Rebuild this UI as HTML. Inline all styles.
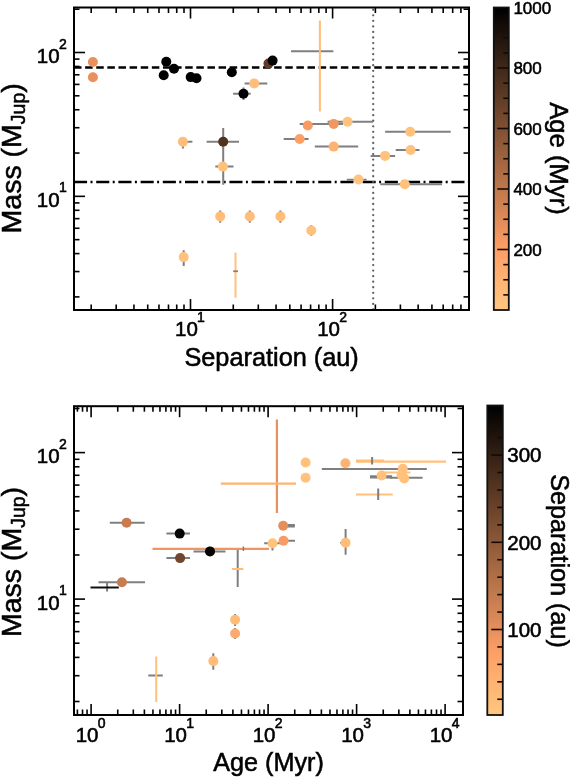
<!DOCTYPE html><html><head><meta charset="utf-8"><style>html,body{margin:0;padding:0;background:#fff;width:570px;height:778px;overflow:hidden}svg{display:block;filter:blur(0.35px)}text{font-family:"Liberation Sans",sans-serif;stroke:#000;stroke-width:0.55px}</style></head><body><svg width="570" height="778" viewBox="0 0 570 778" font-family="Liberation Sans, sans-serif">
<rect width="570" height="778" fill="#fff"/>
<defs>
<linearGradient id="cu" x1="0" y1="1" x2="0" y2="0"><stop offset="0.00" stop-color="#ffc77f"/><stop offset="0.05" stop-color="#ffbd79"/><stop offset="0.10" stop-color="#ffb372"/><stop offset="0.15" stop-color="#ffa96c"/><stop offset="0.20" stop-color="#ff9f65"/><stop offset="0.25" stop-color="#ef955f"/><stop offset="0.30" stop-color="#df8b59"/><stop offset="0.35" stop-color="#cf8152"/><stop offset="0.40" stop-color="#bf784c"/><stop offset="0.45" stop-color="#af6e46"/><stop offset="0.50" stop-color="#9f643f"/><stop offset="0.55" stop-color="#8f5a39"/><stop offset="0.60" stop-color="#805033"/><stop offset="0.65" stop-color="#70462c"/><stop offset="0.70" stop-color="#603c26"/><stop offset="0.75" stop-color="#503220"/><stop offset="0.80" stop-color="#402819"/><stop offset="0.85" stop-color="#301e13"/><stop offset="0.90" stop-color="#20140d"/><stop offset="0.95" stop-color="#100a06"/><stop offset="1.00" stop-color="#000000"/></linearGradient>
<clipPath id="ct"><rect x="74" y="7.5" width="395" height="302.5"/></clipPath>
<clipPath id="cb"><rect x="74" y="406.2" width="389" height="308.8"/></clipPath>
</defs>
<g clip-path="url(#ct)">
<line x1="74" y1="67.4" x2="469" y2="67.4" stroke="#000" stroke-width="2.5" stroke-dasharray="7.5 3.62"/>
<line x1="74" y1="181.9" x2="469" y2="181.9" stroke="#000" stroke-width="2.5" stroke-dasharray="13.1 3.4 2 3.7"/>
<line x1="373.2" y1="4.2" x2="373.2" y2="310" stroke="#606060" stroke-width="2.3" stroke-dasharray="0.01 5.54" stroke-linecap="round"/>
<line x1="233.1" y1="93.7" x2="250.7" y2="93.7" stroke="#7f7f7f" stroke-width="2" />
<line x1="243.5" y1="87.5" x2="243.5" y2="100" stroke="#7f7f7f" stroke-width="2" />
<line x1="244.6" y1="83.4" x2="267.3" y2="83.4" stroke="#7f7f7f" stroke-width="2" />
<line x1="291" y1="51.2" x2="333.4" y2="51.2" stroke="#7f7f7f" stroke-width="2" />
<line x1="299.7" y1="123.9" x2="343" y2="123.9" stroke="#7f7f7f" stroke-width="2" />
<line x1="327.6" y1="121.8" x2="373" y2="121.8" stroke="#7f7f7f" stroke-width="2" />
<line x1="283.7" y1="139" x2="308.6" y2="139" stroke="#7f7f7f" stroke-width="2" />
<line x1="314.8" y1="146.6" x2="358.2" y2="146.6" stroke="#7f7f7f" stroke-width="2" />
<line x1="385.1" y1="131.8" x2="450.7" y2="131.8" stroke="#7f7f7f" stroke-width="2" />
<line x1="395.7" y1="150" x2="419.5" y2="150" stroke="#7f7f7f" stroke-width="2" />
<line x1="370.6" y1="155.9" x2="395.1" y2="155.9" stroke="#7f7f7f" stroke-width="2" />
<line x1="380.3" y1="184.3" x2="442" y2="184.3" stroke="#7f7f7f" stroke-width="2" />
<line x1="346.8" y1="179.7" x2="366.6" y2="179.7" stroke="#7f7f7f" stroke-width="2" />
<line x1="182.9" y1="141.8" x2="192.4" y2="141.8" stroke="#7f7f7f" stroke-width="2" />
<line x1="182.9" y1="141.8" x2="182.9" y2="148.4" stroke="#7f7f7f" stroke-width="2" />
<line x1="206.6" y1="141.8" x2="239" y2="141.8" stroke="#7f7f7f" stroke-width="2" />
<line x1="223.2" y1="127.9" x2="223.2" y2="184.8" stroke="#7f7f7f" stroke-width="2" />
<line x1="215.3" y1="166.6" x2="233.5" y2="166.6" stroke="#7f7f7f" stroke-width="2" />
<line x1="220.2" y1="210.5" x2="220.2" y2="222.7" stroke="#7f7f7f" stroke-width="2" />
<line x1="249.8" y1="210.5" x2="249.8" y2="222.7" stroke="#7f7f7f" stroke-width="2" />
<line x1="280.4" y1="210.5" x2="280.4" y2="222.7" stroke="#7f7f7f" stroke-width="2" />
<line x1="311.3" y1="225.3" x2="311.3" y2="235.8" stroke="#7f7f7f" stroke-width="2" />
<line x1="183.7" y1="250.3" x2="183.7" y2="266" stroke="#7f7f7f" stroke-width="2" />
<line x1="233.5" y1="271.3" x2="237.7" y2="271.3" stroke="#7f7f7f" stroke-width="2" />
<line x1="319.9" y1="20.4" x2="319.9" y2="111.6" stroke="#ffbd79" stroke-width="2" />
<line x1="235.5" y1="252.6" x2="235.5" y2="297.7" stroke="#ffc17b" stroke-width="2" />
<line x1="233.5" y1="271.3" x2="237.7" y2="271.3" stroke="#7f7f7f" stroke-width="1.5" />
<circle cx="92.9" cy="62.0" r="5.0" fill="#e9915d"/>
<circle cx="92.9" cy="77.3" r="5.0" fill="#e9915d"/>
<circle cx="166.3" cy="61.7" r="5.0" fill="#000000"/>
<circle cx="163.7" cy="75.2" r="5.0" fill="#000000"/>
<circle cx="174" cy="68.7" r="5.0" fill="#000000"/>
<circle cx="190.7" cy="77.1" r="5.0" fill="#000000"/>
<circle cx="196.5" cy="78.3" r="5.0" fill="#000000"/>
<circle cx="231.8" cy="72.2" r="5.0" fill="#000000"/>
<circle cx="243.5" cy="93.7" r="5.0" fill="#000000"/>
<circle cx="254.2" cy="83.4" r="5.0" fill="#ffbf7a"/>
<circle cx="268.5" cy="63.6" r="5.0" fill="#603c26"/>
<circle cx="272.6" cy="60.6" r="5.0" fill="#060403"/>
<circle cx="307.8" cy="125.5" r="5.0" fill="#f99b63"/>
<circle cx="333.7" cy="123.9" r="5.0" fill="#f29760"/>
<circle cx="347.6" cy="121.8" r="5.0" fill="#ffc37c"/>
<circle cx="299.7" cy="139" r="5.0" fill="#ff9f65"/>
<circle cx="333.7" cy="146.6" r="5.0" fill="#ffb372"/>
<circle cx="410.2" cy="131.8" r="5.0" fill="#ffc17b"/>
<circle cx="410.6" cy="150" r="5.0" fill="#ffc17b"/>
<circle cx="385.1" cy="155.9" r="5.0" fill="#ffc17b"/>
<circle cx="404.8" cy="184.3" r="5.0" fill="#ffc17b"/>
<circle cx="358.5" cy="179.5" r="5.0" fill="#ffc37c"/>
<circle cx="182.9" cy="141.8" r="5.0" fill="#ffbd79"/>
<circle cx="223.2" cy="141.8" r="5.0" fill="#503220"/>
<circle cx="222.9" cy="166.6" r="5.0" fill="#ffc17b"/>
<circle cx="220.2" cy="216.4" r="5.0" fill="#ffbd79"/>
<circle cx="249.8" cy="216.4" r="5.0" fill="#ffbd79"/>
<circle cx="280.4" cy="216.4" r="5.0" fill="#ffbd79"/>
<circle cx="311.3" cy="230.5" r="5.0" fill="#ffc17b"/>
<circle cx="183.7" cy="257.1" r="5.0" fill="#ffc17b"/>
</g>
<line x1="190.5" y1="310" x2="190.5" y2="299" stroke="#000" stroke-width="1.6" />
<line x1="190.5" y1="7.5" x2="190.5" y2="18.5" stroke="#000" stroke-width="1.6" />
<line x1="332.59999999999997" y1="310" x2="332.59999999999997" y2="299" stroke="#000" stroke-width="1.6" />
<line x1="332.59999999999997" y1="7.5" x2="332.59999999999997" y2="18.5" stroke="#000" stroke-width="1.6" />
<line x1="91.17636238385172" y1="310" x2="91.17636238385172" y2="304.5" stroke="#000" stroke-width="1.6" />
<line x1="91.17636238385172" y1="7.5" x2="91.17636238385172" y2="13.0" stroke="#000" stroke-width="1.6" />
<line x1="116.19893029566404" y1="310" x2="116.19893029566404" y2="304.5" stroke="#000" stroke-width="1.6" />
<line x1="116.19893029566404" y1="7.5" x2="116.19893029566404" y2="13.0" stroke="#000" stroke-width="1.6" />
<line x1="133.95272476770344" y1="310" x2="133.95272476770344" y2="304.5" stroke="#000" stroke-width="1.6" />
<line x1="133.95272476770344" y1="7.5" x2="133.95272476770344" y2="13.0" stroke="#000" stroke-width="1.6" />
<line x1="147.72363761614827" y1="310" x2="147.72363761614827" y2="304.5" stroke="#000" stroke-width="1.6" />
<line x1="147.72363761614827" y1="7.5" x2="147.72363761614827" y2="13.0" stroke="#000" stroke-width="1.6" />
<line x1="158.97529267951575" y1="310" x2="158.97529267951575" y2="304.5" stroke="#000" stroke-width="1.6" />
<line x1="158.97529267951575" y1="7.5" x2="158.97529267951575" y2="13.0" stroke="#000" stroke-width="1.6" />
<line x1="168.4884314860259" y1="310" x2="168.4884314860259" y2="304.5" stroke="#000" stroke-width="1.6" />
<line x1="168.4884314860259" y1="7.5" x2="168.4884314860259" y2="13.0" stroke="#000" stroke-width="1.6" />
<line x1="176.72908715155518" y1="310" x2="176.72908715155518" y2="304.5" stroke="#000" stroke-width="1.6" />
<line x1="176.72908715155518" y1="7.5" x2="176.72908715155518" y2="13.0" stroke="#000" stroke-width="1.6" />
<line x1="183.99786059132808" y1="310" x2="183.99786059132808" y2="304.5" stroke="#000" stroke-width="1.6" />
<line x1="183.99786059132808" y1="7.5" x2="183.99786059132808" y2="13.0" stroke="#000" stroke-width="1.6" />
<line x1="233.27636238385173" y1="310" x2="233.27636238385173" y2="304.5" stroke="#000" stroke-width="1.6" />
<line x1="233.27636238385173" y1="7.5" x2="233.27636238385173" y2="13.0" stroke="#000" stroke-width="1.6" />
<line x1="258.298930295664" y1="310" x2="258.298930295664" y2="304.5" stroke="#000" stroke-width="1.6" />
<line x1="258.298930295664" y1="7.5" x2="258.298930295664" y2="13.0" stroke="#000" stroke-width="1.6" />
<line x1="276.05272476770347" y1="310" x2="276.05272476770347" y2="304.5" stroke="#000" stroke-width="1.6" />
<line x1="276.05272476770347" y1="7.5" x2="276.05272476770347" y2="13.0" stroke="#000" stroke-width="1.6" />
<line x1="289.82363761614823" y1="310" x2="289.82363761614823" y2="304.5" stroke="#000" stroke-width="1.6" />
<line x1="289.82363761614823" y1="7.5" x2="289.82363761614823" y2="13.0" stroke="#000" stroke-width="1.6" />
<line x1="301.07529267951577" y1="310" x2="301.07529267951577" y2="304.5" stroke="#000" stroke-width="1.6" />
<line x1="301.07529267951577" y1="7.5" x2="301.07529267951577" y2="13.0" stroke="#000" stroke-width="1.6" />
<line x1="310.58843148602585" y1="310" x2="310.58843148602585" y2="304.5" stroke="#000" stroke-width="1.6" />
<line x1="310.58843148602585" y1="7.5" x2="310.58843148602585" y2="13.0" stroke="#000" stroke-width="1.6" />
<line x1="318.82908715155514" y1="310" x2="318.82908715155514" y2="304.5" stroke="#000" stroke-width="1.6" />
<line x1="318.82908715155514" y1="7.5" x2="318.82908715155514" y2="13.0" stroke="#000" stroke-width="1.6" />
<line x1="326.097860591328" y1="310" x2="326.097860591328" y2="304.5" stroke="#000" stroke-width="1.6" />
<line x1="326.097860591328" y1="7.5" x2="326.097860591328" y2="13.0" stroke="#000" stroke-width="1.6" />
<line x1="375.3763623838517" y1="310" x2="375.3763623838517" y2="304.5" stroke="#000" stroke-width="1.6" />
<line x1="375.3763623838517" y1="7.5" x2="375.3763623838517" y2="13.0" stroke="#000" stroke-width="1.6" />
<line x1="400.398930295664" y1="310" x2="400.398930295664" y2="304.5" stroke="#000" stroke-width="1.6" />
<line x1="400.398930295664" y1="7.5" x2="400.398930295664" y2="13.0" stroke="#000" stroke-width="1.6" />
<line x1="418.15272476770343" y1="310" x2="418.15272476770343" y2="304.5" stroke="#000" stroke-width="1.6" />
<line x1="418.15272476770343" y1="7.5" x2="418.15272476770343" y2="13.0" stroke="#000" stroke-width="1.6" />
<line x1="431.9236376161482" y1="310" x2="431.9236376161482" y2="304.5" stroke="#000" stroke-width="1.6" />
<line x1="431.9236376161482" y1="7.5" x2="431.9236376161482" y2="13.0" stroke="#000" stroke-width="1.6" />
<line x1="443.17529267951574" y1="310" x2="443.17529267951574" y2="304.5" stroke="#000" stroke-width="1.6" />
<line x1="443.17529267951574" y1="7.5" x2="443.17529267951574" y2="13.0" stroke="#000" stroke-width="1.6" />
<line x1="452.6884314860259" y1="310" x2="452.6884314860259" y2="304.5" stroke="#000" stroke-width="1.6" />
<line x1="452.6884314860259" y1="7.5" x2="452.6884314860259" y2="13.0" stroke="#000" stroke-width="1.6" />
<line x1="460.92908715155517" y1="310" x2="460.92908715155517" y2="304.5" stroke="#000" stroke-width="1.6" />
<line x1="460.92908715155517" y1="7.5" x2="460.92908715155517" y2="13.0" stroke="#000" stroke-width="1.6" />
<line x1="74" y1="196.35" x2="85" y2="196.35" stroke="#000" stroke-width="1.6" />
<line x1="469" y1="196.35" x2="458" y2="196.35" stroke="#000" stroke-width="1.6" />
<line x1="74" y1="52.5" x2="85" y2="52.5" stroke="#000" stroke-width="1.6" />
<line x1="469" y1="52.5" x2="458" y2="52.5" stroke="#000" stroke-width="1.6" />
<line x1="74" y1="296.8968351237363" x2="79.5" y2="296.8968351237363" stroke="#000" stroke-width="1.6" />
<line x1="469" y1="296.8968351237363" x2="463.5" y2="296.8968351237363" stroke="#000" stroke-width="1.6" />
<line x1="74" y1="271.5661075085766" x2="79.5" y2="271.5661075085766" stroke="#000" stroke-width="1.6" />
<line x1="469" y1="271.5661075085766" x2="463.5" y2="271.5661075085766" stroke="#000" stroke-width="1.6" />
<line x1="74" y1="253.59367024747257" x2="79.5" y2="253.59367024747257" stroke="#000" stroke-width="1.6" />
<line x1="469" y1="253.59367024747257" x2="463.5" y2="253.59367024747257" stroke="#000" stroke-width="1.6" />
<line x1="74" y1="239.6531648762637" x2="79.5" y2="239.6531648762637" stroke="#000" stroke-width="1.6" />
<line x1="469" y1="239.6531648762637" x2="463.5" y2="239.6531648762637" stroke="#000" stroke-width="1.6" />
<line x1="74" y1="228.26294263231284" x2="79.5" y2="228.26294263231284" stroke="#000" stroke-width="1.6" />
<line x1="469" y1="228.26294263231284" x2="463.5" y2="228.26294263231284" stroke="#000" stroke-width="1.6" />
<line x1="74" y1="218.63264694394914" x2="79.5" y2="218.63264694394914" stroke="#000" stroke-width="1.6" />
<line x1="469" y1="218.63264694394914" x2="463.5" y2="218.63264694394914" stroke="#000" stroke-width="1.6" />
<line x1="74" y1="210.29050537120892" x2="79.5" y2="210.29050537120892" stroke="#000" stroke-width="1.6" />
<line x1="469" y1="210.29050537120892" x2="463.5" y2="210.29050537120892" stroke="#000" stroke-width="1.6" />
<line x1="74" y1="202.93221501715314" x2="79.5" y2="202.93221501715314" stroke="#000" stroke-width="1.6" />
<line x1="469" y1="202.93221501715314" x2="463.5" y2="202.93221501715314" stroke="#000" stroke-width="1.6" />
<line x1="74" y1="153.0468351237363" x2="79.5" y2="153.0468351237363" stroke="#000" stroke-width="1.6" />
<line x1="469" y1="153.0468351237363" x2="463.5" y2="153.0468351237363" stroke="#000" stroke-width="1.6" />
<line x1="74" y1="127.71610750857657" x2="79.5" y2="127.71610750857657" stroke="#000" stroke-width="1.6" />
<line x1="469" y1="127.71610750857657" x2="463.5" y2="127.71610750857657" stroke="#000" stroke-width="1.6" />
<line x1="74" y1="109.7436702474726" x2="79.5" y2="109.7436702474726" stroke="#000" stroke-width="1.6" />
<line x1="469" y1="109.7436702474726" x2="463.5" y2="109.7436702474726" stroke="#000" stroke-width="1.6" />
<line x1="74" y1="95.80316487626371" x2="79.5" y2="95.80316487626371" stroke="#000" stroke-width="1.6" />
<line x1="469" y1="95.80316487626371" x2="463.5" y2="95.80316487626371" stroke="#000" stroke-width="1.6" />
<line x1="74" y1="84.41294263231286" x2="79.5" y2="84.41294263231286" stroke="#000" stroke-width="1.6" />
<line x1="469" y1="84.41294263231286" x2="463.5" y2="84.41294263231286" stroke="#000" stroke-width="1.6" />
<line x1="74" y1="74.78264694394915" x2="79.5" y2="74.78264694394915" stroke="#000" stroke-width="1.6" />
<line x1="469" y1="74.78264694394915" x2="463.5" y2="74.78264694394915" stroke="#000" stroke-width="1.6" />
<line x1="74" y1="66.44050537120893" x2="79.5" y2="66.44050537120893" stroke="#000" stroke-width="1.6" />
<line x1="469" y1="66.44050537120893" x2="463.5" y2="66.44050537120893" stroke="#000" stroke-width="1.6" />
<line x1="74" y1="59.08221501715313" x2="79.5" y2="59.08221501715313" stroke="#000" stroke-width="1.6" />
<line x1="469" y1="59.08221501715313" x2="463.5" y2="59.08221501715313" stroke="#000" stroke-width="1.6" />
<line x1="74" y1="9.1968351237363" x2="79.5" y2="9.1968351237363" stroke="#000" stroke-width="1.6" />
<line x1="469" y1="9.1968351237363" x2="463.5" y2="9.1968351237363" stroke="#000" stroke-width="1.6" />
<rect x="74" y="7.5" width="395" height="302.5" fill="none" stroke="#000" stroke-width="2"/>
<text x="36.8" y="63.1" font-size="20.5" text-anchor="start" >10</text>
<text x="59.0" y="48.5" font-size="14" text-anchor="start" >2</text>
<text x="36.8" y="206.95" font-size="20.5" text-anchor="start" >10</text>
<text x="59.0" y="192.35" font-size="14" text-anchor="start" >1</text>
<text x="175.1" y="336.3" font-size="20.5" text-anchor="start" >10</text>
<text x="197.1" y="322.1" font-size="14" text-anchor="start" >1</text>
<text x="317.2" y="336.3" font-size="20.5" text-anchor="start" >10</text>
<text x="339.2" y="322.1" font-size="14" text-anchor="start" >2</text>
<text x="271.6" y="365.6" font-size="25.3" text-anchor="middle" >Separation (au)</text>
<text transform="translate(21.3,158.3) rotate(-90)" font-size="28.5" text-anchor="middle">Mass (M<tspan font-size="19.5" dy="4">Jup</tspan><tspan dy="-4">)</tspan></text>
<rect x="493.8" y="7.5" width="15.0" height="302.5" fill="url(#cu)"/>
<line x1="503.3" y1="294.875" x2="508.8" y2="294.875" stroke="#140a04" stroke-width="1.6" />
<line x1="503.3" y1="279.75" x2="508.8" y2="279.75" stroke="#140a04" stroke-width="1.6" />
<line x1="503.3" y1="264.625" x2="508.8" y2="264.625" stroke="#140a04" stroke-width="1.6" />
<line x1="497.3" y1="249.5" x2="508.8" y2="249.5" stroke="#140a04" stroke-width="1.6" />
<line x1="503.3" y1="234.375" x2="508.8" y2="234.375" stroke="#140a04" stroke-width="1.6" />
<line x1="503.3" y1="219.25" x2="508.8" y2="219.25" stroke="#140a04" stroke-width="1.6" />
<line x1="503.3" y1="204.125" x2="508.8" y2="204.125" stroke="#140a04" stroke-width="1.6" />
<line x1="497.3" y1="189.0" x2="508.8" y2="189.0" stroke="#140a04" stroke-width="1.6" />
<line x1="503.3" y1="173.875" x2="508.8" y2="173.875" stroke="#140a04" stroke-width="1.6" />
<line x1="503.3" y1="158.75" x2="508.8" y2="158.75" stroke="#140a04" stroke-width="1.6" />
<line x1="503.3" y1="143.625" x2="508.8" y2="143.625" stroke="#140a04" stroke-width="1.6" />
<line x1="497.3" y1="128.5" x2="508.8" y2="128.5" stroke="#140a04" stroke-width="1.6" />
<line x1="503.3" y1="113.375" x2="508.8" y2="113.375" stroke="#140a04" stroke-width="1.6" />
<line x1="503.3" y1="98.25" x2="508.8" y2="98.25" stroke="#140a04" stroke-width="1.6" />
<line x1="503.3" y1="83.125" x2="508.8" y2="83.125" stroke="#140a04" stroke-width="1.6" />
<line x1="497.3" y1="68.0" x2="508.8" y2="68.0" stroke="#140a04" stroke-width="1.6" />
<line x1="503.3" y1="52.875" x2="508.8" y2="52.875" stroke="#140a04" stroke-width="1.6" />
<line x1="503.3" y1="37.75" x2="508.8" y2="37.75" stroke="#140a04" stroke-width="1.6" />
<line x1="503.3" y1="22.625" x2="508.8" y2="22.625" stroke="#140a04" stroke-width="1.6" />
<rect x="493.8" y="7.5" width="15.0" height="302.5" fill="none" stroke="#111" stroke-width="1.8"/>
<text x="513.4" y="255.5" font-size="17" text-anchor="start" >200</text>
<text x="513.4" y="195.0" font-size="17" text-anchor="start" >400</text>
<text x="513.4" y="134.5" font-size="17" text-anchor="start" >600</text>
<text x="513.4" y="74.0" font-size="17" text-anchor="start" >800</text>
<text x="513.4" y="13.5" font-size="17" text-anchor="start" >1000</text>
<text transform="translate(549.5,158.5) rotate(90)" font-size="25.7" text-anchor="middle">Age (Myr)</text>
<g clip-path="url(#cb)">
<line x1="109.8" y1="522.8" x2="144.7" y2="522.8" stroke="#7f7f7f" stroke-width="2" />
<line x1="166.4" y1="533.6" x2="190" y2="533.6" stroke="#7f7f7f" stroke-width="2" />
<line x1="166.4" y1="558.1" x2="190" y2="558.1" stroke="#7f7f7f" stroke-width="2" />
<line x1="98.5" y1="582.2" x2="145" y2="582.2" stroke="#7f7f7f" stroke-width="2" />
<line x1="107.1" y1="582.2" x2="107.1" y2="591.4" stroke="#7f7f7f" stroke-width="2" />
<line x1="193.5" y1="551.4" x2="225.5" y2="551.4" stroke="#7f7f7f" stroke-width="2" />
<line x1="237.7" y1="549" x2="237.7" y2="587" stroke="#7f7f7f" stroke-width="2" />
<line x1="283.2" y1="525.0" x2="294.9" y2="525.0" stroke="#7f7f7f" stroke-width="2" />
<line x1="283.2" y1="526.6" x2="294.9" y2="526.6" stroke="#7f7f7f" stroke-width="2" />
<line x1="283.5" y1="540.7" x2="295" y2="540.7" stroke="#7f7f7f" stroke-width="2" />
<line x1="264.2" y1="543.2" x2="280" y2="543.2" stroke="#7f7f7f" stroke-width="2" />
<line x1="272.5" y1="543.2" x2="272.5" y2="550.4" stroke="#7f7f7f" stroke-width="2" />
<line x1="321.8" y1="469" x2="426.8" y2="469" stroke="#7f7f7f" stroke-width="2" />
<line x1="370" y1="476.3" x2="392.1" y2="476.3" stroke="#7f7f7f" stroke-width="2" />
<line x1="370" y1="477.5" x2="392.1" y2="477.5" stroke="#7f7f7f" stroke-width="2" />
<line x1="390" y1="477.7" x2="422.6" y2="477.7" stroke="#7f7f7f" stroke-width="2" />
<line x1="213.3" y1="653.2" x2="213.3" y2="669.8" stroke="#7f7f7f" stroke-width="2" />
<line x1="235.1" y1="614" x2="235.1" y2="626" stroke="#7f7f7f" stroke-width="2" />
<line x1="235.1" y1="628" x2="235.1" y2="639" stroke="#7f7f7f" stroke-width="2" />
<line x1="148.3" y1="675.6" x2="162.8" y2="675.6" stroke="#7f7f7f" stroke-width="2" />
<line x1="90.5" y1="587.5" x2="118.8" y2="587.5" stroke="#111" stroke-width="2.2" />
<line x1="276.9" y1="419.6" x2="276.9" y2="513" stroke="#e9915d" stroke-width="2.2" />
<line x1="220.8" y1="483.7" x2="296" y2="483.7" stroke="#ffb372" stroke-width="2.2" />
<line x1="152.5" y1="548.8" x2="269" y2="548.8" stroke="#ef955f" stroke-width="2.2" />
<line x1="232" y1="569.1" x2="243.4" y2="569.1" stroke="#ffbd79" stroke-width="2" />
<line x1="356" y1="461.6" x2="446" y2="461.6" stroke="#ffc17b" stroke-width="2.2" />
<line x1="356" y1="460.4" x2="384" y2="460.4" stroke="#ffbd79" stroke-width="2" />
<line x1="383.7" y1="472.4" x2="410.5" y2="472.4" stroke="#ffc17b" stroke-width="2" />
<line x1="356" y1="494.4" x2="392.8" y2="494.4" stroke="#ffc17b" stroke-width="2" />
<line x1="156.2" y1="656.4" x2="156.2" y2="702.1" stroke="#ffc17b" stroke-width="2" />
<line x1="372.1" y1="457" x2="372.1" y2="464.5" stroke="#7f7f7f" stroke-width="2" />
<line x1="378.2" y1="488.6" x2="378.2" y2="500" stroke="#7f7f7f" stroke-width="2" />
<line x1="243.4" y1="546.5" x2="243.4" y2="551" stroke="#7f7f7f" stroke-width="1.5" />
<line x1="345.6" y1="529.1" x2="345.6" y2="554.7" stroke="#7f7f7f" stroke-width="2" />
<line x1="340" y1="542.8" x2="345.6" y2="542.8" stroke="#7f7f7f" stroke-width="1.5" />
<circle cx="126.6" cy="522.8" r="5.0" fill="#c67c4f"/>
<circle cx="179.7" cy="533.6" r="5.0" fill="#060403"/>
<circle cx="180.1" cy="558.1" r="5.0" fill="#70462c"/>
<circle cx="121.9" cy="582.2" r="5.0" fill="#c67c4f"/>
<circle cx="210" cy="551.4" r="5.0" fill="#060403"/>
<circle cx="283.2" cy="525.8" r="5.0" fill="#e58f5b"/>
<circle cx="283.5" cy="540.7" r="5.0" fill="#f99b63"/>
<circle cx="272.5" cy="543.2" r="5.0" fill="#ffc37c"/>
<circle cx="305.6" cy="462.5" r="5.0" fill="#ffc17b"/>
<circle cx="305.6" cy="477.7" r="5.0" fill="#ffc17b"/>
<circle cx="345.4" cy="463.2" r="5.0" fill="#ffb372"/>
<circle cx="402.8" cy="468.7" r="5.0" fill="#ffc17b"/>
<circle cx="381.6" cy="475.5" r="5.0" fill="#ffc17b"/>
<circle cx="401.6" cy="475" r="5.0" fill="#ffc17b"/>
<circle cx="404.2" cy="478.4" r="5.0" fill="#ffc17b"/>
<circle cx="345.6" cy="542.8" r="5.0" fill="#ffbd79"/>
<circle cx="235.1" cy="619.8" r="5.0" fill="#ffbd79"/>
<circle cx="235.1" cy="633.5" r="5.0" fill="#ffa96c"/>
<circle cx="213.3" cy="661.1" r="5.0" fill="#ffbd79"/>
</g>
<line x1="91.1" y1="715" x2="91.1" y2="704" stroke="#000" stroke-width="1.6" />
<line x1="91.1" y1="406.2" x2="91.1" y2="417.2" stroke="#000" stroke-width="1.6" />
<line x1="179.6" y1="715" x2="179.6" y2="704" stroke="#000" stroke-width="1.6" />
<line x1="179.6" y1="406.2" x2="179.6" y2="417.2" stroke="#000" stroke-width="1.6" />
<line x1="268.1" y1="715" x2="268.1" y2="704" stroke="#000" stroke-width="1.6" />
<line x1="268.1" y1="406.2" x2="268.1" y2="417.2" stroke="#000" stroke-width="1.6" />
<line x1="356.6" y1="715" x2="356.6" y2="704" stroke="#000" stroke-width="1.6" />
<line x1="356.6" y1="406.2" x2="356.6" y2="417.2" stroke="#000" stroke-width="1.6" />
<line x1="445.1" y1="715" x2="445.1" y2="704" stroke="#000" stroke-width="1.6" />
<line x1="445.1" y1="406.2" x2="445.1" y2="417.2" stroke="#000" stroke-width="1.6" />
<line x1="77.39117654126173" y1="715" x2="77.39117654126173" y2="709.5" stroke="#000" stroke-width="1.6" />
<line x1="77.39117654126173" y1="406.2" x2="77.39117654126173" y2="411.7" stroke="#000" stroke-width="1.6" />
<line x1="82.523463848787" y1="715" x2="82.523463848787" y2="709.5" stroke="#000" stroke-width="1.6" />
<line x1="82.523463848787" y1="406.2" x2="82.523463848787" y2="411.7" stroke="#000" stroke-width="1.6" />
<line x1="87.05046208538025" y1="715" x2="87.05046208538025" y2="709.5" stroke="#000" stroke-width="1.6" />
<line x1="87.05046208538025" y1="406.2" x2="87.05046208538025" y2="411.7" stroke="#000" stroke-width="1.6" />
<line x1="117.74115461626234" y1="715" x2="117.74115461626234" y2="709.5" stroke="#000" stroke-width="1.6" />
<line x1="117.74115461626234" y1="406.2" x2="117.74115461626234" y2="411.7" stroke="#000" stroke-width="1.6" />
<line x1="133.32523104269012" y1="715" x2="133.32523104269012" y2="709.5" stroke="#000" stroke-width="1.6" />
<line x1="133.32523104269012" y1="406.2" x2="133.32523104269012" y2="411.7" stroke="#000" stroke-width="1.6" />
<line x1="144.38230923252468" y1="715" x2="144.38230923252468" y2="709.5" stroke="#000" stroke-width="1.6" />
<line x1="144.38230923252468" y1="406.2" x2="144.38230923252468" y2="411.7" stroke="#000" stroke-width="1.6" />
<line x1="152.95884538373767" y1="715" x2="152.95884538373767" y2="709.5" stroke="#000" stroke-width="1.6" />
<line x1="152.95884538373767" y1="406.2" x2="152.95884538373767" y2="411.7" stroke="#000" stroke-width="1.6" />
<line x1="159.96638565895245" y1="715" x2="159.96638565895245" y2="709.5" stroke="#000" stroke-width="1.6" />
<line x1="159.96638565895245" y1="406.2" x2="159.96638565895245" y2="411.7" stroke="#000" stroke-width="1.6" />
<line x1="165.89117654126173" y1="715" x2="165.89117654126173" y2="709.5" stroke="#000" stroke-width="1.6" />
<line x1="165.89117654126173" y1="406.2" x2="165.89117654126173" y2="411.7" stroke="#000" stroke-width="1.6" />
<line x1="171.023463848787" y1="715" x2="171.023463848787" y2="709.5" stroke="#000" stroke-width="1.6" />
<line x1="171.023463848787" y1="406.2" x2="171.023463848787" y2="411.7" stroke="#000" stroke-width="1.6" />
<line x1="175.55046208538025" y1="715" x2="175.55046208538025" y2="709.5" stroke="#000" stroke-width="1.6" />
<line x1="175.55046208538025" y1="406.2" x2="175.55046208538025" y2="411.7" stroke="#000" stroke-width="1.6" />
<line x1="206.24115461626235" y1="715" x2="206.24115461626235" y2="709.5" stroke="#000" stroke-width="1.6" />
<line x1="206.24115461626235" y1="406.2" x2="206.24115461626235" y2="411.7" stroke="#000" stroke-width="1.6" />
<line x1="221.82523104269012" y1="715" x2="221.82523104269012" y2="709.5" stroke="#000" stroke-width="1.6" />
<line x1="221.82523104269012" y1="406.2" x2="221.82523104269012" y2="411.7" stroke="#000" stroke-width="1.6" />
<line x1="232.88230923252468" y1="715" x2="232.88230923252468" y2="709.5" stroke="#000" stroke-width="1.6" />
<line x1="232.88230923252468" y1="406.2" x2="232.88230923252468" y2="411.7" stroke="#000" stroke-width="1.6" />
<line x1="241.45884538373767" y1="715" x2="241.45884538373767" y2="709.5" stroke="#000" stroke-width="1.6" />
<line x1="241.45884538373767" y1="406.2" x2="241.45884538373767" y2="411.7" stroke="#000" stroke-width="1.6" />
<line x1="248.46638565895245" y1="715" x2="248.46638565895245" y2="709.5" stroke="#000" stroke-width="1.6" />
<line x1="248.46638565895245" y1="406.2" x2="248.46638565895245" y2="411.7" stroke="#000" stroke-width="1.6" />
<line x1="254.39117654126173" y1="715" x2="254.39117654126173" y2="709.5" stroke="#000" stroke-width="1.6" />
<line x1="254.39117654126173" y1="406.2" x2="254.39117654126173" y2="411.7" stroke="#000" stroke-width="1.6" />
<line x1="259.523463848787" y1="715" x2="259.523463848787" y2="709.5" stroke="#000" stroke-width="1.6" />
<line x1="259.523463848787" y1="406.2" x2="259.523463848787" y2="411.7" stroke="#000" stroke-width="1.6" />
<line x1="264.0504620853802" y1="715" x2="264.0504620853802" y2="709.5" stroke="#000" stroke-width="1.6" />
<line x1="264.0504620853802" y1="406.2" x2="264.0504620853802" y2="411.7" stroke="#000" stroke-width="1.6" />
<line x1="294.7411546162623" y1="715" x2="294.7411546162623" y2="709.5" stroke="#000" stroke-width="1.6" />
<line x1="294.7411546162623" y1="406.2" x2="294.7411546162623" y2="411.7" stroke="#000" stroke-width="1.6" />
<line x1="310.3252310426901" y1="715" x2="310.3252310426901" y2="709.5" stroke="#000" stroke-width="1.6" />
<line x1="310.3252310426901" y1="406.2" x2="310.3252310426901" y2="411.7" stroke="#000" stroke-width="1.6" />
<line x1="321.3823092325247" y1="715" x2="321.3823092325247" y2="709.5" stroke="#000" stroke-width="1.6" />
<line x1="321.3823092325247" y1="406.2" x2="321.3823092325247" y2="411.7" stroke="#000" stroke-width="1.6" />
<line x1="329.95884538373764" y1="715" x2="329.95884538373764" y2="709.5" stroke="#000" stroke-width="1.6" />
<line x1="329.95884538373764" y1="406.2" x2="329.95884538373764" y2="411.7" stroke="#000" stroke-width="1.6" />
<line x1="336.9663856589525" y1="715" x2="336.9663856589525" y2="709.5" stroke="#000" stroke-width="1.6" />
<line x1="336.9663856589525" y1="406.2" x2="336.9663856589525" y2="411.7" stroke="#000" stroke-width="1.6" />
<line x1="342.89117654126176" y1="715" x2="342.89117654126176" y2="709.5" stroke="#000" stroke-width="1.6" />
<line x1="342.89117654126176" y1="406.2" x2="342.89117654126176" y2="411.7" stroke="#000" stroke-width="1.6" />
<line x1="348.02346384878706" y1="715" x2="348.02346384878706" y2="709.5" stroke="#000" stroke-width="1.6" />
<line x1="348.02346384878706" y1="406.2" x2="348.02346384878706" y2="411.7" stroke="#000" stroke-width="1.6" />
<line x1="352.5504620853802" y1="715" x2="352.5504620853802" y2="709.5" stroke="#000" stroke-width="1.6" />
<line x1="352.5504620853802" y1="406.2" x2="352.5504620853802" y2="411.7" stroke="#000" stroke-width="1.6" />
<line x1="383.2411546162623" y1="715" x2="383.2411546162623" y2="709.5" stroke="#000" stroke-width="1.6" />
<line x1="383.2411546162623" y1="406.2" x2="383.2411546162623" y2="411.7" stroke="#000" stroke-width="1.6" />
<line x1="398.8252310426901" y1="715" x2="398.8252310426901" y2="709.5" stroke="#000" stroke-width="1.6" />
<line x1="398.8252310426901" y1="406.2" x2="398.8252310426901" y2="411.7" stroke="#000" stroke-width="1.6" />
<line x1="409.8823092325247" y1="715" x2="409.8823092325247" y2="709.5" stroke="#000" stroke-width="1.6" />
<line x1="409.8823092325247" y1="406.2" x2="409.8823092325247" y2="411.7" stroke="#000" stroke-width="1.6" />
<line x1="418.45884538373764" y1="715" x2="418.45884538373764" y2="709.5" stroke="#000" stroke-width="1.6" />
<line x1="418.45884538373764" y1="406.2" x2="418.45884538373764" y2="411.7" stroke="#000" stroke-width="1.6" />
<line x1="425.4663856589525" y1="715" x2="425.4663856589525" y2="709.5" stroke="#000" stroke-width="1.6" />
<line x1="425.4663856589525" y1="406.2" x2="425.4663856589525" y2="411.7" stroke="#000" stroke-width="1.6" />
<line x1="431.39117654126176" y1="715" x2="431.39117654126176" y2="709.5" stroke="#000" stroke-width="1.6" />
<line x1="431.39117654126176" y1="406.2" x2="431.39117654126176" y2="411.7" stroke="#000" stroke-width="1.6" />
<line x1="436.52346384878706" y1="715" x2="436.52346384878706" y2="709.5" stroke="#000" stroke-width="1.6" />
<line x1="436.52346384878706" y1="406.2" x2="436.52346384878706" y2="411.7" stroke="#000" stroke-width="1.6" />
<line x1="441.0504620853802" y1="715" x2="441.0504620853802" y2="709.5" stroke="#000" stroke-width="1.6" />
<line x1="441.0504620853802" y1="406.2" x2="441.0504620853802" y2="411.7" stroke="#000" stroke-width="1.6" />
<line x1="74" y1="599.1" x2="85" y2="599.1" stroke="#000" stroke-width="1.6" />
<line x1="463" y1="599.1" x2="452" y2="599.1" stroke="#000" stroke-width="1.6" />
<line x1="74" y1="452.6" x2="85" y2="452.6" stroke="#000" stroke-width="1.6" />
<line x1="463" y1="452.6" x2="452" y2="452.6" stroke="#000" stroke-width="1.6" />
<line x1="74" y1="701.4991056352268" x2="79.5" y2="701.4991056352268" stroke="#000" stroke-width="1.6" />
<line x1="463" y1="701.4991056352268" x2="457.5" y2="701.4991056352268" stroke="#000" stroke-width="1.6" />
<line x1="74" y1="675.7017361835694" x2="79.5" y2="675.7017361835694" stroke="#000" stroke-width="1.6" />
<line x1="463" y1="675.7017361835694" x2="457.5" y2="675.7017361835694" stroke="#000" stroke-width="1.6" />
<line x1="74" y1="657.3982112704535" x2="79.5" y2="657.3982112704535" stroke="#000" stroke-width="1.6" />
<line x1="463" y1="657.3982112704535" x2="457.5" y2="657.3982112704535" stroke="#000" stroke-width="1.6" />
<line x1="74" y1="643.2008943647733" x2="79.5" y2="643.2008943647733" stroke="#000" stroke-width="1.6" />
<line x1="463" y1="643.2008943647733" x2="457.5" y2="643.2008943647733" stroke="#000" stroke-width="1.6" />
<line x1="74" y1="631.6008418187962" x2="79.5" y2="631.6008418187962" stroke="#000" stroke-width="1.6" />
<line x1="463" y1="631.6008418187962" x2="457.5" y2="631.6008418187962" stroke="#000" stroke-width="1.6" />
<line x1="74" y1="621.7931371379113" x2="79.5" y2="621.7931371379113" stroke="#000" stroke-width="1.6" />
<line x1="463" y1="621.7931371379113" x2="457.5" y2="621.7931371379113" stroke="#000" stroke-width="1.6" />
<line x1="74" y1="613.2973169056803" x2="79.5" y2="613.2973169056803" stroke="#000" stroke-width="1.6" />
<line x1="463" y1="613.2973169056803" x2="457.5" y2="613.2973169056803" stroke="#000" stroke-width="1.6" />
<line x1="74" y1="605.803472367139" x2="79.5" y2="605.803472367139" stroke="#000" stroke-width="1.6" />
<line x1="463" y1="605.803472367139" x2="457.5" y2="605.803472367139" stroke="#000" stroke-width="1.6" />
<line x1="74" y1="554.9991056352268" x2="79.5" y2="554.9991056352268" stroke="#000" stroke-width="1.6" />
<line x1="463" y1="554.9991056352268" x2="457.5" y2="554.9991056352268" stroke="#000" stroke-width="1.6" />
<line x1="74" y1="529.2017361835694" x2="79.5" y2="529.2017361835694" stroke="#000" stroke-width="1.6" />
<line x1="463" y1="529.2017361835694" x2="457.5" y2="529.2017361835694" stroke="#000" stroke-width="1.6" />
<line x1="74" y1="510.89821127045354" x2="79.5" y2="510.89821127045354" stroke="#000" stroke-width="1.6" />
<line x1="463" y1="510.89821127045354" x2="457.5" y2="510.89821127045354" stroke="#000" stroke-width="1.6" />
<line x1="74" y1="496.70089436477326" x2="79.5" y2="496.70089436477326" stroke="#000" stroke-width="1.6" />
<line x1="463" y1="496.70089436477326" x2="457.5" y2="496.70089436477326" stroke="#000" stroke-width="1.6" />
<line x1="74" y1="485.10084181879625" x2="79.5" y2="485.10084181879625" stroke="#000" stroke-width="1.6" />
<line x1="463" y1="485.10084181879625" x2="457.5" y2="485.10084181879625" stroke="#000" stroke-width="1.6" />
<line x1="74" y1="475.2931371379114" x2="79.5" y2="475.2931371379114" stroke="#000" stroke-width="1.6" />
<line x1="463" y1="475.2931371379114" x2="457.5" y2="475.2931371379114" stroke="#000" stroke-width="1.6" />
<line x1="74" y1="466.7973169056803" x2="79.5" y2="466.7973169056803" stroke="#000" stroke-width="1.6" />
<line x1="463" y1="466.7973169056803" x2="457.5" y2="466.7973169056803" stroke="#000" stroke-width="1.6" />
<line x1="74" y1="459.30347236713897" x2="79.5" y2="459.30347236713897" stroke="#000" stroke-width="1.6" />
<line x1="463" y1="459.30347236713897" x2="457.5" y2="459.30347236713897" stroke="#000" stroke-width="1.6" />
<line x1="74" y1="408.4991056352268" x2="79.5" y2="408.4991056352268" stroke="#000" stroke-width="1.6" />
<line x1="463" y1="408.4991056352268" x2="457.5" y2="408.4991056352268" stroke="#000" stroke-width="1.6" />
<rect x="74" y="406.2" width="389" height="308.8" fill="none" stroke="#000" stroke-width="2"/>
<text x="36.8" y="463.20000000000005" font-size="20.5" text-anchor="start" >10</text>
<text x="59.0" y="448.6" font-size="14" text-anchor="start" >2</text>
<text x="36.8" y="609.7" font-size="20.5" text-anchor="start" >10</text>
<text x="59.0" y="595.1" font-size="14" text-anchor="start" >1</text>
<text x="75.69999999999999" y="741.7" font-size="20.5" text-anchor="start" >10</text>
<text x="97.69999999999999" y="727.5" font-size="14" text-anchor="start" >0</text>
<text x="164.2" y="741.7" font-size="20.5" text-anchor="start" >10</text>
<text x="186.2" y="727.5" font-size="14" text-anchor="start" >1</text>
<text x="252.70000000000002" y="741.7" font-size="20.5" text-anchor="start" >10</text>
<text x="274.70000000000005" y="727.5" font-size="14" text-anchor="start" >2</text>
<text x="341.20000000000005" y="741.7" font-size="20.5" text-anchor="start" >10</text>
<text x="363.20000000000005" y="727.5" font-size="14" text-anchor="start" >3</text>
<text x="429.70000000000005" y="741.7" font-size="20.5" text-anchor="start" >10</text>
<text x="451.70000000000005" y="727.5" font-size="14" text-anchor="start" >4</text>
<text x="268.5" y="770.5" font-size="25.2" text-anchor="middle" >Age (Myr)</text>
<text transform="translate(21.3,562) rotate(-90)" font-size="28.5" text-anchor="middle">Mass (M<tspan font-size="19.5" dy="4">Jup</tspan><tspan dy="-4">)</tspan></text>
<rect x="487.3" y="405.5" width="15.5" height="309.5" fill="url(#cu)"/>
<line x1="497.3" y1="699.26" x2="502.8" y2="699.26" stroke="#140a04" stroke-width="1.6" />
<line x1="497.3" y1="681.82" x2="502.8" y2="681.82" stroke="#140a04" stroke-width="1.6" />
<line x1="497.3" y1="664.38" x2="502.8" y2="664.38" stroke="#140a04" stroke-width="1.6" />
<line x1="497.3" y1="646.94" x2="502.8" y2="646.94" stroke="#140a04" stroke-width="1.6" />
<line x1="491.3" y1="629.5" x2="502.8" y2="629.5" stroke="#140a04" stroke-width="1.6" />
<line x1="497.3" y1="612.06" x2="502.8" y2="612.06" stroke="#140a04" stroke-width="1.6" />
<line x1="497.3" y1="594.62" x2="502.8" y2="594.62" stroke="#140a04" stroke-width="1.6" />
<line x1="497.3" y1="577.18" x2="502.8" y2="577.18" stroke="#140a04" stroke-width="1.6" />
<line x1="497.3" y1="559.74" x2="502.8" y2="559.74" stroke="#140a04" stroke-width="1.6" />
<line x1="491.3" y1="542.3" x2="502.8" y2="542.3" stroke="#140a04" stroke-width="1.6" />
<line x1="497.3" y1="524.86" x2="502.8" y2="524.86" stroke="#140a04" stroke-width="1.6" />
<line x1="497.3" y1="507.42" x2="502.8" y2="507.42" stroke="#140a04" stroke-width="1.6" />
<line x1="497.3" y1="489.98" x2="502.8" y2="489.98" stroke="#140a04" stroke-width="1.6" />
<line x1="497.3" y1="472.53999999999996" x2="502.8" y2="472.53999999999996" stroke="#140a04" stroke-width="1.6" />
<line x1="491.3" y1="455.1" x2="502.8" y2="455.1" stroke="#140a04" stroke-width="1.6" />
<line x1="497.3" y1="437.65999999999997" x2="502.8" y2="437.65999999999997" stroke="#140a04" stroke-width="1.6" />
<line x1="497.3" y1="420.22" x2="502.8" y2="420.22" stroke="#140a04" stroke-width="1.6" />
<rect x="487.3" y="405.5" width="15.5" height="309.5" fill="none" stroke="#111" stroke-width="1.8"/>
<text x="507.3" y="636.7" font-size="20.5" text-anchor="start" >100</text>
<text x="507.3" y="549.5" font-size="20.5" text-anchor="start" >200</text>
<text x="507.3" y="462.3" font-size="20.5" text-anchor="start" >300</text>
<text transform="translate(551,561) rotate(90)" font-size="25.2" text-anchor="middle">Separation (au)</text>
</svg></body></html>
